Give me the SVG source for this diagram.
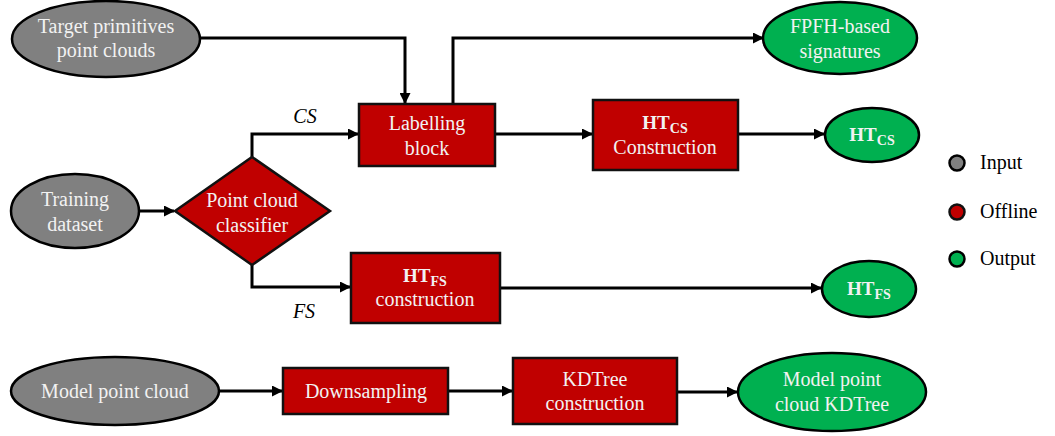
<svg xmlns="http://www.w3.org/2000/svg" width="1055" height="436" viewBox="0 0 1055 436">
<style>
.in{fill:#808080;stroke:#000;stroke-width:2.5}
.off{fill:#C00000;stroke:#111;stroke-width:2.5}
.out{fill:#00B050;stroke:#000;stroke-width:2.5}
text{font-family:'Liberation Serif','Times New Roman',serif}
.t{font-size:20px;fill:#F2F2F2;text-anchor:middle}
.b{font-size:19px;font-weight:bold;fill:#F2F2F2;text-anchor:middle}
.sub{font-size:14px}
.lab{font-size:20px;font-style:italic;fill:#000;text-anchor:middle}
.leg{font-size:20px;fill:#000}
.c{fill:none;stroke:#000;stroke-width:3;marker-end:url(#ah)}
</style>
<defs>
<marker id="ah" markerWidth="11" markerHeight="11" refX="10" refY="5.5" orient="auto" markerUnits="userSpaceOnUse" viewBox="0 0 11 11">
<path d="M0,0 L11,5.5 L0,11 z" fill="#000"/>
</marker>
</defs>
<g id="connectors">
<path class="c" d="M199,38 H405 V103"/>
<path class="c" d="M453,104 V38 H763"/>
<path class="c" d="M496,134 H592"/>
<path class="c" d="M739,134 H824"/>
<path class="c" d="M139,211 H174"/>
<path class="c" d="M252,157 V134 H358"/>
<path class="c" d="M252,265 V287 H350"/>
<path class="c" d="M501,288 H821"/>
<path class="c" d="M219,391 H282"/>
<path class="c" d="M449,391 H512"/>
<path class="c" d="M678,392 H737"/>
</g>
<g id="target">
<ellipse class="in" cx="106" cy="39" rx="94" ry="38"/>
<text class="t" x="106" y="33">Target primitives</text>
<text class="t" x="106" y="57">point clouds</text>
</g>
<g id="labelling">
<rect class="off" x="359" y="104" width="136" height="62"/>
<text class="t" x="427" y="130">Labelling</text>
<text class="t" x="427" y="155">block</text>
</g>
<g id="fpfh">
<ellipse class="out" cx="840" cy="38" rx="77" ry="36"/>
<text class="t" x="840" y="33">FPFH-based</text>
<text class="t" x="840" y="58">signatures</text>
</g>
<g id="htcs-box">
<rect class="off" x="593" y="100" width="145" height="70"/>
<text class="b" x="665" y="129">HT<tspan class="sub" dy="4">CS</tspan></text>
<text class="t" x="665" y="154">Construction</text>
</g>
<g id="htcs-out">
<ellipse class="out" cx="872" cy="135" rx="47" ry="27"/>
<text class="b" x="872" y="141">HT<tspan class="sub" dy="4">CS</tspan></text>
</g>
<g id="training">
<ellipse class="in" cx="75" cy="211" rx="64" ry="37"/>
<text class="t" x="75" y="206">Training</text>
<text class="t" x="75" y="231">dataset</text>
</g>
<g id="classifier">
<polygon class="off" points="252,157 330,211 252,265 175,211"/>
<text class="t" x="252" y="207">Point cloud</text>
<text class="t" x="252" y="232">classifier</text>
</g>
<g id="htfs-box">
<rect class="off" x="351" y="253" width="149" height="70"/>
<text class="b" x="425" y="282">HT<tspan class="sub" dy="4">FS</tspan></text>
<text class="t" x="425" y="306">construction</text>
</g>
<g id="htfs-out">
<ellipse class="out" cx="869" cy="289" rx="47" ry="28"/>
<text class="b" x="869" y="295">HT<tspan class="sub" dy="4">FS</tspan></text>
</g>
<g id="edge-labels">
<text class="lab" x="305" y="123">CS</text>
<text class="lab" x="304" y="318">FS</text>
</g>
<g id="legend">
<circle class="in" cx="957" cy="163" r="7.5"/>
<text class="leg" x="980" y="169">Input</text>
<circle class="off" cx="957" cy="212" r="7.5"/>
<text class="leg" x="980" y="218">Offline</text>
<circle class="out" cx="957" cy="259" r="7.5"/>
<text class="leg" x="980" y="265">Output</text>
</g>
<g id="model">
<ellipse class="in" cx="115" cy="391" rx="104" ry="34"/>
<text class="t" x="115" y="398">Model point cloud</text>
</g>
<g id="downsampling">
<rect class="off" x="283" y="368" width="165" height="46"/>
<text class="t" x="366" y="398">Downsampling</text>
</g>
<g id="kdtree">
<rect class="off" x="513" y="358" width="164" height="66"/>
<text class="t" x="595" y="386">KDTree</text>
<text class="t" x="595" y="410">construction</text>
</g>
<g id="kdtree-out">
<ellipse class="out" cx="832" cy="392" rx="94" ry="39"/>
<text class="t" x="832" y="386">Model point</text>
<text class="t" x="832" y="411">cloud KDTree</text>
</g>
</svg>
